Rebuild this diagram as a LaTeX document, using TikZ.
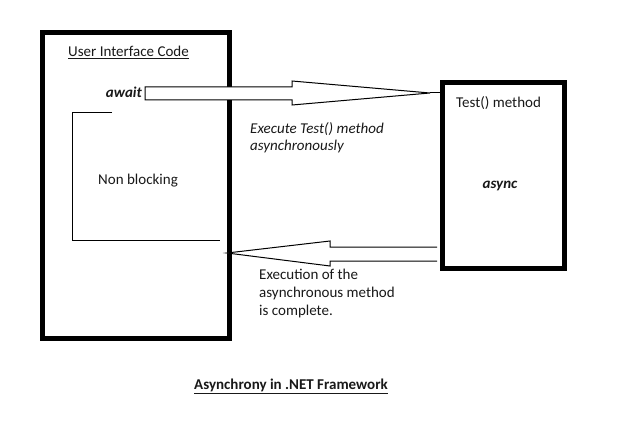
\documentclass[tikz,border=0pt]{standalone}
\usepackage{fontspec}
\setmainfont{Carlito}
\begin{document}
\begin{tikzpicture}[x=1pt,y=-1pt,
  thickbox/.style={draw=black,line width=5pt},
  thin/.style={draw=black,line width=1pt},
  lbl/.style={font=\fontsize{15}{18}\selectfont,inner sep=0pt,text=black!90},
  hollow/.style={draw=black,line width=1pt,fill=white,line join=miter}]
\useasboundingbox (0,0) rectangle (620,425);
\fill[white] (0,0) rectangle (620,425);
% boxes
\node[thickbox,minimum width=187pt,minimum height=306pt,inner sep=0pt,anchor=north west] (ui) at (40,30) {};
\node[thickbox,minimum width=122pt,minimum height=185pt,inner sep=0pt,anchor=north west] (tm) at (439.5,80.5) {};
% texts
\node[lbl,anchor=base west] (uit) at (68,57) {\underline{User Interface Code}};
\node[lbl,anchor=base east,font=\fontsize{15}{18}\selectfont\bfseries\itshape] (aw) at (142,98) {await};
\node[lbl,anchor=base west] (nb) at (98,184) {Non blocking};
\node[lbl,anchor=base west,font=\fontsize{15}{18}\selectfont\itshape] (ex) at (250,133) {Execute Test() method};
\node[lbl,anchor=base west,font=\fontsize{15}{18}\selectfont\itshape] (ex2) at (250,150) {asynchronously};
\node[lbl,anchor=base west] (tt) at (456,107) {Test() method};
\node[lbl,anchor=base,font=\fontsize{15}{18}\selectfont\bfseries\itshape] (as) at (500,188) {async};
\node[lbl,anchor=base west] (c1) at (259,279) {Execution of the};
\node[lbl,anchor=base west] (c2) at (259,297) {asynchronous method};
\node[lbl,anchor=base west] (c3) at (259,315) {is complete.};
\node[lbl,anchor=base,font=\fontsize{15}{18}\selectfont\bfseries] (cap) at (291,389) {\underline{Asynchrony in .NET Framework}};
% top hollow arrow
\coordinate (t1) at (430,93);
\draw[hollow] (145,87) -- (292,87) -- (292,81) -- (t1) -- (292,105) -- (292,100) -- (145,100) -- cycle;
\draw[thin] (t1) -- (tm.west |- t1);
% bottom hollow arrow
\coordinate (b1) at (227,253);
\draw[hollow] (437,247) -- (330,247) -- (330,241) -- (b1) -- (330,266) -- (330,261) -- (437,261);
% bracket
\draw[thin] (112,112) -- (72,112) -- (72,240) -- (220,240);
\end{tikzpicture}
\end{document}
